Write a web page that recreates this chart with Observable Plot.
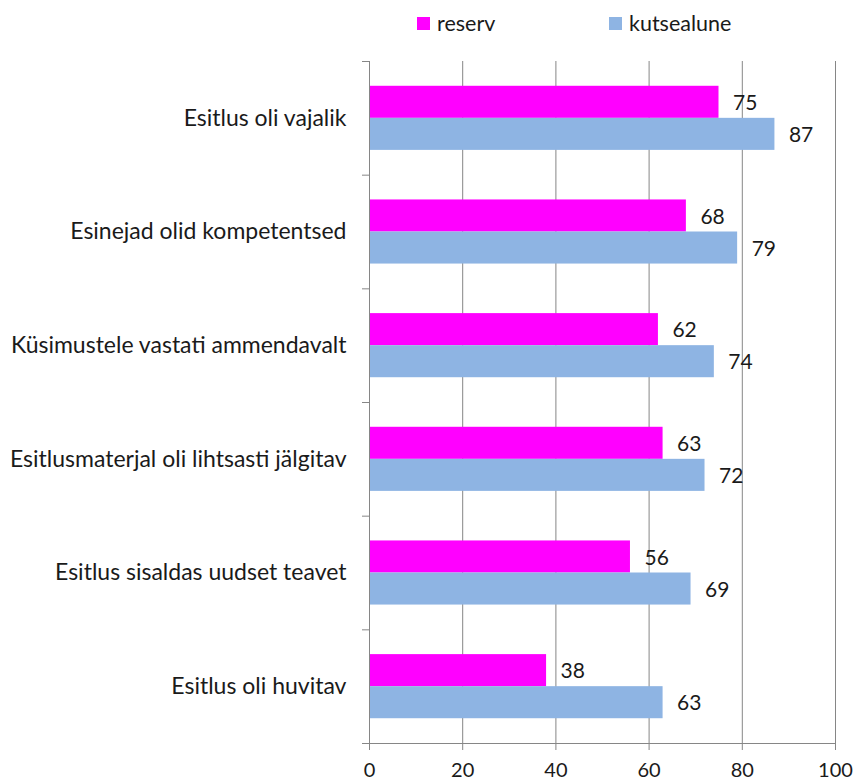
<!DOCTYPE html>
<html>
<head>
<meta charset="utf-8">
<script src="https://cdn.jsdelivr.net/npm/d3@7"></script>
<script src="https://cdn.jsdelivr.net/npm/@observablehq/plot@0.6"></script>
<style>
  body { margin: 0; background: #fff; }
  #wrap { position: relative; width: 857px; height: 784px; font-family: Lato, "Open Sans", sans-serif; color: #1a1a1a; }
  #legend { position: relative; height: 48px; font-size: 21.5px; }
  .item { position: absolute; top: 10px; display: flex; align-items: center; }
  .sw { width: 13px; height: 13px; margin-right: 7px; }
  g[aria-label="x-axis tick"], g[aria-label="y-axis tick"] { stroke: #868686; }
</style>
</head>
<body>
<div id="wrap">
  <div id="legend"></div>
  <div id="chart"></div>
</div>
<script>
const categories = [
  "Esitlus oli vajalik",
  "Esinejad olid kompetentsed",
  "Küsimustele vastati ammendavalt",
  "Esitlusmaterjal oli lihtsasti jälgitav",
  "Esitlus sisaldas uudset teavet",
  "Esitlus oli huvitav"
];
const reserv = [75, 68, 62, 63, 56, 38];
const kutsealune = [87, 79, 74, 72, 69, 63];
const seriesNames = ["reserv", "kutsealune"];
const seriesColors = ["#FF00FF", "#8EB4E3"];
const xTicks = [0, 20, 40, 60, 80, 100];

const barShare = 0.282; // fraction of a category band taken by one bar
const rows = [];
categories.forEach((c, i) => {
  [reserv, kutsealune].forEach((arr, s) => {
    const y1 = i + 0.5 + (s - 1) * barShare;
    rows.push({cat: c, i, series: seriesNames[s], value: arr[i], y1, y2: y1 + barShare});
  });
});
const catRows = categories.map((c, i) => ({cat: c, i}));
const bounds = d3.range(categories.length + 1);

// legend
const legendLeft = [417, 609];
const legend = document.getElementById("legend");
seriesNames.forEach((n, k) => {
  const it = document.createElement("div");
  it.className = "item";
  it.style.left = legendLeft[k] + "px";
  it.innerHTML = `<span class="sw" style="background:${seriesColors[k]}"></span><span>${n}</span>`;
  legend.appendChild(it);
});

const chart = Plot.plot({
  width: 857,
  height: 736,
  marginTop: 13,
  marginBottom: 41,
  marginLeft: 369,
  marginRight: 22,
  style: {fontFamily: "Lato, 'Open Sans', sans-serif", fontSize: "20px", color: "#1a1a1a", background: "#fff"},
  x: {domain: [0, 100], ticks: xTicks, tickSize: 7, tickPadding: 12, label: null},
  y: {domain: [0, categories.length], reverse: true, ticks: bounds, tickSize: 7, tickFormat: () => "", label: null},
  color: {domain: seriesNames, range: seriesColors},
  marks: [
    Plot.ruleX(xTicks.filter(t => t > 0), {stroke: "#868686", strokeWidth: 1}),
    Plot.rectX(rows, {x1: 0, x2: "value", y1: "y1", y2: "y2", fill: "series"}),
    Plot.text(rows, {x: "value", y: d => (d.y1 + d.y2) / 2, text: d => String(d.value), textAnchor: "start", dx: 14, dy: 1, fontSize: 21, fill: "#1a1a1a"}),
    Plot.text(catRows, {x: 0, y: d => d.i + 0.5, text: "cat", textAnchor: "end", dx: -23, fontSize: 23, fill: "#1a1a1a"}),
    Plot.ruleX([0], {stroke: "#868686", strokeWidth: 1}),
    Plot.ruleY([categories.length], {x1: 0, x2: 100, stroke: "#868686", strokeWidth: 1})
  ]
});
document.getElementById("chart").appendChild(chart);
</script>
</body>
</html>
